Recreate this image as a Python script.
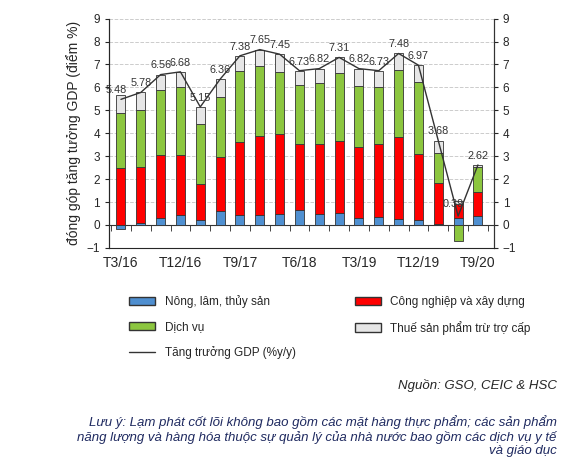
import numpy as np, pandas as pd, matplotlib
matplotlib.use("Agg")
import matplotlib.pyplot as plt, seaborn as sns
from matplotlib.lines import Line2D
from matplotlib.patches import Patch

quarters = ["T3/16","T6/16","T9/16","T12/16","T3/17","T6/17","T9/17","T12/17","T3/18","T6/18","T9/18","T12/18",
            "T3/19","T6/19","T9/19","T12/19","T3/20","T6/20","T9/20"]
agri = [-0.17,0.08,0.30,0.45,0.22,0.60,0.45,0.42,0.47,0.65,0.50,0.53,0.30,0.35,0.25,0.20,0.05,0.30,0.38]
industry = [2.48,2.47,2.75,2.60,1.58,2.35,3.18,3.46,3.48,2.87,3.05,3.15,3.12,3.17,3.58,2.90,1.78,0.60,1.07]
services = [2.42,2.45,2.82,2.95,2.60,2.62,3.07,3.05,2.73,2.58,2.63,2.94,2.63,2.48,2.94,3.15,1.30,-0.70,1.07]
taxes = [0.75,0.78,0.69,0.68,0.75,0.79,0.68,0.72,0.77,0.63,0.64,0.69,0.77,0.73,0.71,0.72,0.55,0.15,0.10]
gdp = [5.48,5.78,6.56,6.68,5.15,6.36,7.38,7.65,7.45,6.73,6.82,7.31,6.82,6.73,7.48,6.97,3.68,0.39,2.62]
tick_labels = ["T3/16","T12/16","T9/17","T6/18","T3/19","T12/19","T9/20"]

sns.set_style("white")
plt.rcParams['font.family'] = ['Liberation Sans', 'DejaVu Sans']
fig = plt.figure(figsize=(5.65,4.66), dpi=100)
ax = fig.add_axes([0.193, 0.468, 0.681, 0.492])
x = np.arange(len(quarters))
pos = np.zeros(len(x)); neg = np.zeros(len(x))
cols = ['#4f8fd0','#ff0000','#8cc63f','#e6e6e6']
for vals, c in zip([agri, industry, services, taxes], cols):
    v = np.array(vals)
    b = np.where(v >= 0, pos, neg)
    ax.bar(x, v, bottom=b, width=0.45, color=c, edgecolor='#333333', linewidth=0.6, zorder=3)
    pos = np.where(v >= 0, pos + v, pos); neg = np.where(v < 0, neg + v, neg)
sns.lineplot(x=x, y=gdp, ax=ax, color='#333333', linewidth=1, zorder=4)
for xi, g in zip(x, gdp):
    dx = -0.25 if xi in (0, 17) else 0
    dy = -0.05 if xi == 17 else 0.18
    ax.text(xi + dx, g + dy + (0.35 if xi == 17 else 0), f"{g:.2f}", ha='center', va='bottom', fontsize=7.8, color='#333333', zorder=5)
ax.set_ylim(-1, 9); ax.set_xlim(-0.6, len(x) - 0.2)
ax.set_yticks(range(-1, 10))
ax.yaxis.grid(True, linestyle='--', color='#cccccc', linewidth=0.7)
ax.set_axisbelow(True)
ax.set_xticks([quarters.index(t) for t in tick_labels])
ax.set_xticklabels(tick_labels, fontsize=9)
ax.set_xticks(np.arange(-0.5, len(x), 1), minor=True)
ax.tick_params(axis='x', which='minor', length=4, bottom=True)
ax.tick_params(axis='x', which='major', length=0, pad=22)
ax.tick_params(axis='y', labelsize=8.5, length=3, left=True)
ax.spines['top'].set_visible(False)
ax.spines['bottom'].set_position(('data', 0))
for s in ['left', 'right', 'bottom']:
    ax.spines[s].set_color('#333333')
ax.set_ylabel("đóng góp tăng tưởng GDP (điểm %)", fontsize=10)
ax2 = ax.twinx(); ax2.set_ylim(-1, 9); ax2.set_yticks(range(-1, 10))
ax2.tick_params(axis='y', labelsize=8.5, length=3, right=True)
ax2.spines['top'].set_visible(False); ax2.spines['right'].set_color('#333333')
ax2.grid(False)
hN = Patch(facecolor=cols[0], edgecolor='#333333', label='Nông, lâm, thủy sản')
hC = Patch(facecolor=cols[1], edgecolor='#333333', label='Công nghiệp và xây dựng')
hD = Patch(facecolor=cols[2], edgecolor='#333333', label='Dịch vụ')
hT = Patch(facecolor=cols[3], edgecolor='#333333', label='Thuế sản phẩm trừ trợ cấp')
hL = Line2D([], [], color='#333333', lw=1, label='Tăng trưởng GDP (%y/y)')
fig.legend(handles=[hN, hD, hL, hC, hT], ncol=2, loc='upper left', bbox_to_anchor=(0.21, 0.39), frameon=False,
           fontsize=8.5, columnspacing=5, handlelength=2.2, labelspacing=1.1)
fig.text(0.985, 0.165, "Nguồn: GSO, CEIC & HSC", ha='right', fontsize=9.5, style='italic')
fig.text(0.985, 0.025, "Lưu ý: Lạm phát cốt lõi không bao gồm các mặt hàng thực phẩm; các sản phẩm\nnăng lượng và hàng hóa thuộc sự quản lý của nhà nước bao gồm các dịch vụ y tế\nvà giáo dục",
         ha='right', fontsize=9.5, style='italic', color='#1f2a60', linespacing=1.2)
fig.savefig("out.png", dpi=100)
